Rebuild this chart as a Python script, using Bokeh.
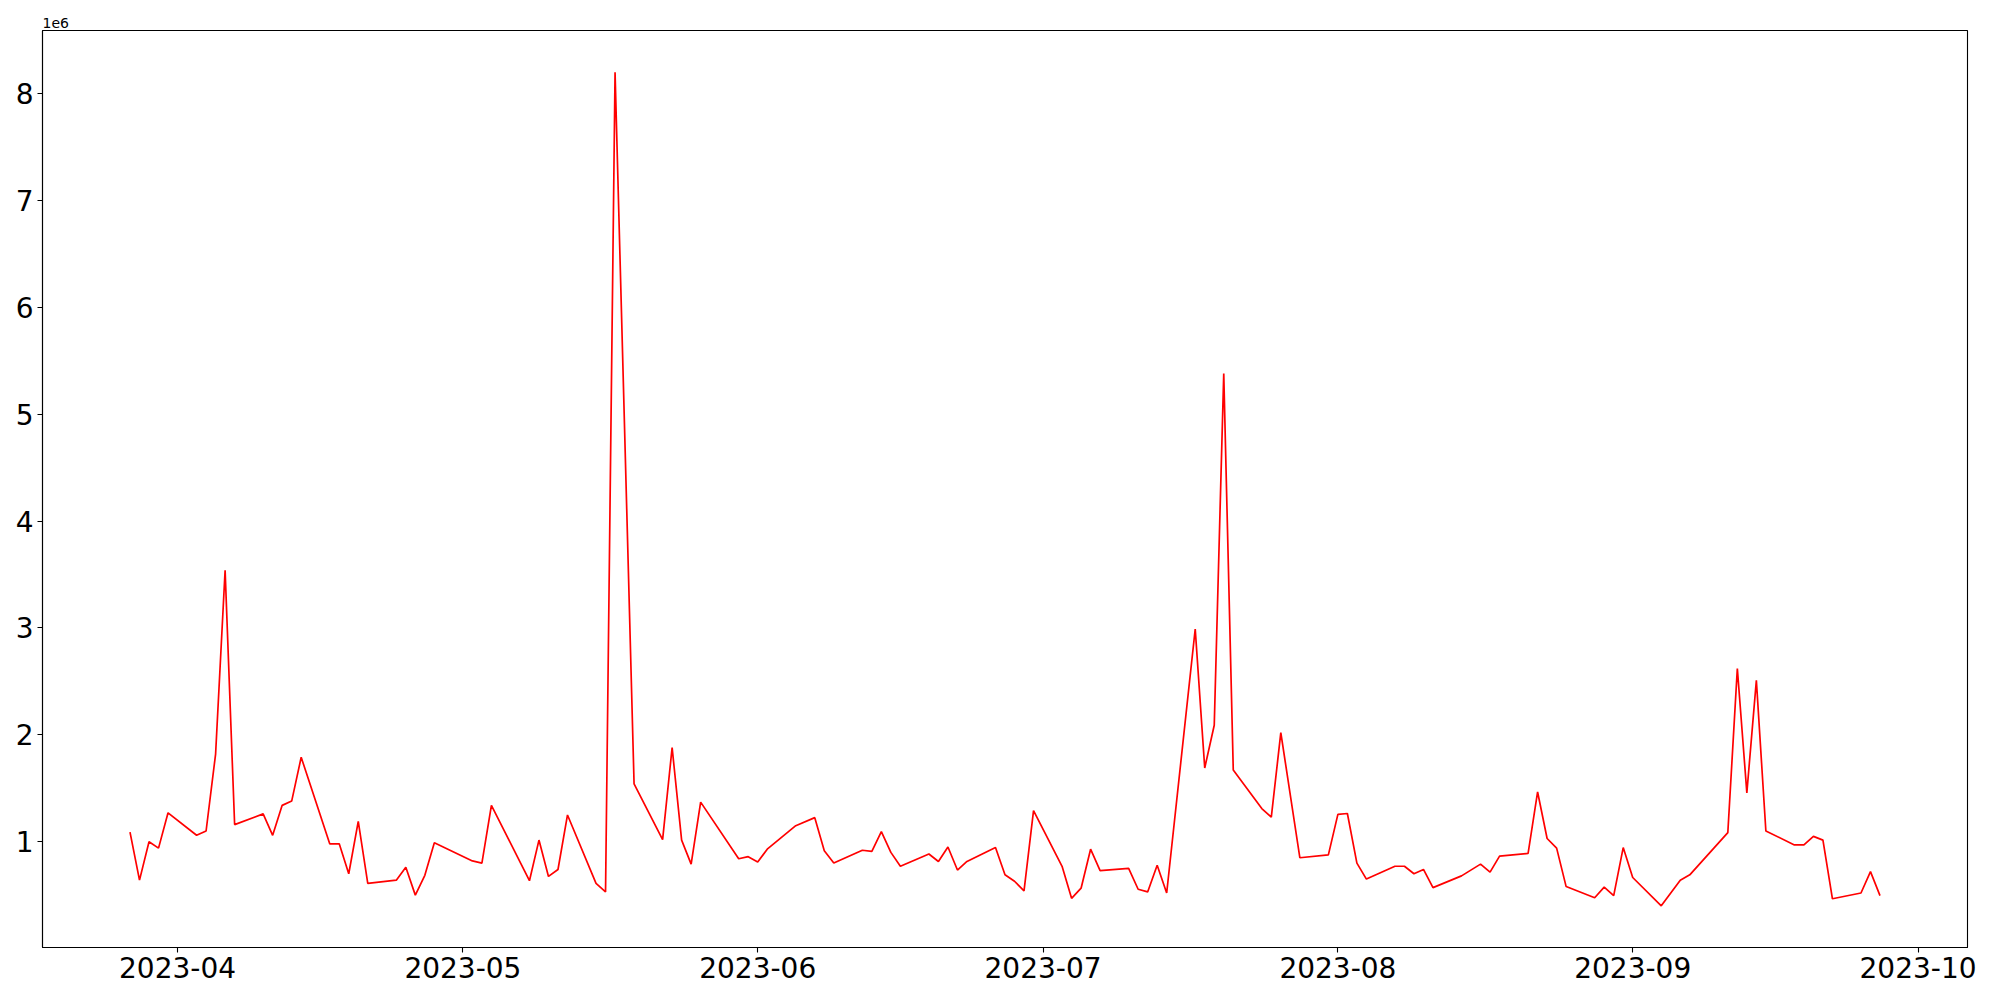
import pandas as pd
from bokeh.plotting import figure
from bokeh.models import (Range1d, FixedTicker, DatetimeTickFormatter,
                          CustomJSTickFormatter, ColumnDataSource)
from bokeh.embed import file_html
from bokeh.resources import INLINE

dates = [
    "2023-03-27", "2023-03-28", "2023-03-29", "2023-03-30", "2023-03-31",
    "2023-04-03", "2023-04-04", "2023-04-05", "2023-04-06", "2023-04-07",
    "2023-04-10", "2023-04-11", "2023-04-12", "2023-04-13", "2023-04-14",
    "2023-04-17", "2023-04-18", "2023-04-19", "2023-04-20", "2023-04-21",
    "2023-04-24", "2023-04-25", "2023-04-26", "2023-04-27", "2023-04-28",
    "2023-05-02", "2023-05-03", "2023-05-04",
    "2023-05-08", "2023-05-09", "2023-05-10", "2023-05-11", "2023-05-12",
    "2023-05-15", "2023-05-16", "2023-05-17", "2023-05-19",
    "2023-05-22", "2023-05-23", "2023-05-24", "2023-05-25", "2023-05-26",
    "2023-05-30", "2023-05-31", "2023-06-01", "2023-06-02",
    "2023-06-05", "2023-06-07", "2023-06-08", "2023-06-09",
    "2023-06-12", "2023-06-13", "2023-06-14", "2023-06-15", "2023-06-16",
    "2023-06-19", "2023-06-20", "2023-06-21", "2023-06-22", "2023-06-23",
    "2023-06-26", "2023-06-27", "2023-06-28", "2023-06-29", "2023-06-30",
    "2023-07-03", "2023-07-04", "2023-07-05", "2023-07-06", "2023-07-07",
    "2023-07-10", "2023-07-11", "2023-07-12", "2023-07-13", "2023-07-14",
    "2023-07-17", "2023-07-18", "2023-07-19", "2023-07-20", "2023-07-21",
    "2023-07-24", "2023-07-25", "2023-07-26", "2023-07-28",
    "2023-07-31", "2023-08-01", "2023-08-02", "2023-08-03", "2023-08-04",
    "2023-08-07", "2023-08-08", "2023-08-09", "2023-08-10", "2023-08-11",
    "2023-08-14", "2023-08-16", "2023-08-17", "2023-08-18",
    "2023-08-21", "2023-08-22", "2023-08-23", "2023-08-24", "2023-08-25",
    "2023-08-28", "2023-08-29", "2023-08-30", "2023-08-31", "2023-09-01",
    "2023-09-04", "2023-09-06", "2023-09-07",
    "2023-09-11", "2023-09-12", "2023-09-13", "2023-09-14", "2023-09-15",
    "2023-09-18", "2023-09-19", "2023-09-20", "2023-09-21", "2023-09-22",
    "2023-09-25", "2023-09-26", "2023-09-27",
]

volume = [
    1090000, 640000, 1000000, 940000, 1270000,
    1060000, 1100000, 1820000, 3540000, 1160000,
    1260000, 1060000, 1340000, 1380000, 1790000,
    980000, 980000, 700000, 1190000, 610000,
    640000, 760000, 500000, 685000, 990000,
    820000, 800000, 1340000,
    635000, 1015000, 675000, 740000, 1250000,
    610000, 530000, 8200000, 1540000,
    1020000, 1880000, 1015000, 790000, 1370000,
    840000, 860000, 810000, 930000,
    1150000, 1225000, 915000, 800000,
    920000, 910000, 1095000, 900000, 770000,
    885000, 815000, 950000, 735000, 815000,
    945000, 690000, 630000, 540000, 1290000,
    770000, 470000, 565000, 930000, 730000,
    750000, 555000, 530000, 780000, 520000,
    2990000, 1690000, 2090000, 5380000, 1670000,
    1310000, 1230000, 2020000, 850000,
    877000, 1256000, 1264000, 800000, 650000,
    770000, 770000, 700000, 740000, 570000,
    680000, 790000, 715000, 865000,
    890000, 1465000, 1030000, 940000, 580000,
    475000, 575000, 495000, 945000, 665000,
    400000, 640000, 690000,
    1085000, 2620000, 1457000, 2510000, 1100000,
    970000, 970000, 1050000, 1015000, 466000,
    520000, 720000, 495000,
]

month_ticks = ["2023-04-01", "2023-05-01", "2023-06-01", "2023-07-01",
               "2023-08-01", "2023-09-01", "2023-10-01"]
y_ticks = [1e6, 2e6, 3e6, 4e6, 5e6, 6e6, 7e6, 8e6]
offset_text = "1e6"

x = pd.to_datetime(dates)
src = ColumnDataSource(data=dict(x=x, y=volume))

# matplotlib-like 5% margins
xmin, xmax = x.min(), x.max()
xpad = (xmax - xmin) * 0.05
ymin, ymax = min(volume), max(volume)
ypad = (ymax - ymin) * 0.05

FONT = "DejaVu Sans"

p = figure(width=1992, height=992, x_axis_type="datetime",
           output_backend="svg", toolbar_location=None,
           x_range=Range1d(xmin - xpad, xmax + xpad),
           y_range=Range1d(ymin - ypad, ymax + ypad),
           min_border_left=42, min_border_right=25,
           min_border_top=30, min_border_bottom=45,
           title=offset_text)

p.title.text_font = FONT
p.title.text_font_size = "14px"
p.title.text_font_style = "normal"
p.title.text_color = "black"
p.title.align = "left"
p.title.offset = 0
p.title.standoff = 6

p.line("x", "y", source=src, line_color="red", line_width=1.7)

p.grid.visible = False
p.outline_line_color = "black"
p.outline_line_width = 1.1
p.background_fill_color = "white"
p.border_fill_color = "white"

tick_ms = [pd.Timestamp(t).value / 1e6 for t in month_ticks]
p.xaxis.ticker = FixedTicker(ticks=tick_ms)
fmt = "%Y-%m"
p.xaxis.formatter = DatetimeTickFormatter(
    microseconds=fmt, milliseconds=fmt, seconds=fmt, minsec=fmt,
    minutes=fmt, hourmin=fmt, hours=fmt, days=fmt, months=fmt, years=fmt)

p.yaxis.ticker = FixedTicker(ticks=y_ticks)
p.yaxis.formatter = CustomJSTickFormatter(code="return (tick/1e6).toFixed(0);")

for ax in (p.xaxis, p.yaxis):
    ax.major_label_text_font = FONT
    ax.major_label_text_font_size = "28px"
    ax.major_label_text_color = "black"
    ax.axis_line_color = "black"
    ax.axis_line_width = 1.1
    ax.major_tick_line_color = "black"
    ax.major_tick_line_width = 1.1
    ax.major_tick_out = 5
    ax.major_tick_in = 0
    ax.minor_tick_line_color = None
    ax.major_label_standoff = 4

open("out.html", "w").write(file_html(p, INLINE))
